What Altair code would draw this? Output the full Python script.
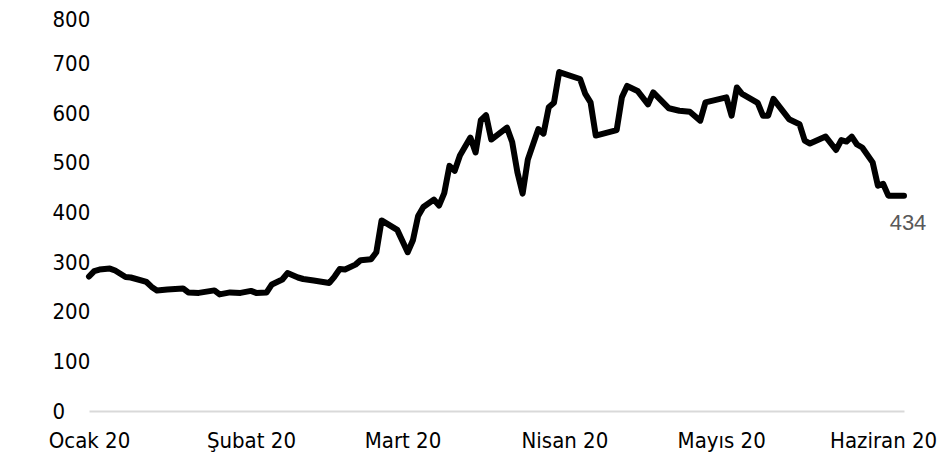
import altair as alt
import pandas as pd

dates = [
    "2020-01-01", "2020-01-02", "2020-01-03", "2020-01-05", "2020-01-06", "2020-01-08",
    "2020-01-09", "2020-01-12", "2020-01-13", "2020-01-14", "2020-01-16", "2020-01-19",
    "2020-01-20", "2020-01-22", "2020-01-25", "2020-01-26", "2020-01-27", "2020-01-28",
    "2020-01-30", "2020-02-01", "2020-02-02", "2020-02-04", "2020-02-05", "2020-02-07",
    "2020-02-08", "2020-02-10", "2020-02-11", "2020-02-13", "2020-02-16", "2020-02-17",
    "2020-02-18", "2020-02-19", "2020-02-21", "2020-02-22", "2020-02-24", "2020-02-25",
    "2020-02-26", "2020-02-29", "2020-03-02", "2020-03-03", "2020-03-04", "2020-03-05",
    "2020-03-07", "2020-03-08", "2020-03-09", "2020-03-10", "2020-03-11", "2020-03-12",
    "2020-03-14", "2020-03-15", "2020-03-16", "2020-03-17", "2020-03-18", "2020-03-21",
    "2020-03-22", "2020-03-23", "2020-03-24", "2020-03-25", "2020-03-27", "2020-03-28",
    "2020-03-29", "2020-03-30", "2020-03-31", "2020-04-04", "2020-04-05", "2020-04-06",
    "2020-04-07", "2020-04-11", "2020-04-12", "2020-04-13", "2020-04-15", "2020-04-17",
    "2020-04-18", "2020-04-21", "2020-04-23", "2020-04-25", "2020-04-27", "2020-04-28",
    "2020-05-02", "2020-05-03", "2020-05-04", "2020-05-05", "2020-05-08", "2020-05-09",
    "2020-05-10", "2020-05-11", "2020-05-14", "2020-05-16", "2020-05-17", "2020-05-18",
    "2020-05-21", "2020-05-23", "2020-05-24", "2020-05-25", "2020-05-26", "2020-05-27",
    "2020-05-28", "2020-05-30", "2020-05-31", "2020-06-01", "2020-06-02", "2020-06-05",
]
values = [
    271, 282, 285, 287, 283, 270,
    269, 260, 250, 243, 245, 247,
    239, 238, 243, 235, 237, 239,
    238, 242, 238, 239, 255, 265,
    278, 269, 266, 263, 258, 271,
    286, 285, 295, 304, 306, 320,
    384, 365, 320, 344, 393, 411,
    426, 414, 439, 494, 484, 515,
    551, 521, 586, 596, 547, 571,
    542, 481, 438, 507, 568, 559,
    612, 621, 683, 669, 639, 622,
    555, 566, 632, 655, 645, 618,
    642, 610, 605, 603, 585, 622,
    632, 595, 652, 639, 621, 595,
    595, 629, 588, 578, 545, 539,
    553, 526, 546, 543, 553, 537,
    531, 501, 454, 458, 434, 434,
]
month_labels = ["Ocak 20", "Şubat 20", "Mart 20", "Nisan 20", "Mayıs 20", "Haziran 20"]
month_starts = ["2020-01-01", "2020-02-01", "2020-03-01", "2020-04-01", "2020-05-01", "2020-06-01"]
y_ticks = [0, 100, 200, 300, 400, 500, 600, 700, 800]

df = pd.DataFrame({"date": dates, "value": values})
last = df.tail(1)

label_array = "[" + ",".join("'" + m + "'" for m in month_labels) + "]"
x_values = [alt.DateTime(year=int(d[:4]), month=int(d[5:7]), date=int(d[8:]), utc=True) for d in month_starts]

FONT = "DejaVu Sans Condensed, Liberation Sans, sans-serif"
LABEL_FONT = "Liberation Sans"

x_enc = alt.X(
    "date:T",
    scale=alt.Scale(type="utc", domain=[alt.DateTime(year=2020, month=1, date=1, utc=True),
                                        alt.DateTime(year=2020, month=6, date=5, utc=True)]),
    axis=alt.Axis(
        title=None,
        values=x_values,
        labelExpr=label_array + "[utcmonth(datum.value)]",
        ticks=False,
        grid=False,
        domainColor="#d9d9d9",
        domainWidth=2,
        labelFont=FONT,
        labelFontSize=22,
        labelColor="#000000",
        labelPadding=19,
        labelFlush=False,
        labelOverlap=False,
    ),
)
y_enc = alt.Y(
    "value:Q",
    scale=alt.Scale(domain=[0, 800], nice=False, zero=True),
    axis=alt.Axis(
        title=None,
        values=y_ticks,
        ticks=False,
        grid=False,
        domain=False,
        labelFont=FONT,
        labelFontSize=22,
        labelColor="#000000",
        labelAlign="left",
        labelPadding=37,
        labelOffset={"condition": {"test": "datum.value == 800", "value": 5}, "value": 0},
    ),
)

line = alt.Chart(df).mark_line(
    color="#000000", strokeWidth=6, strokeJoin="round", strokeCap="round"
).encode(x=x_enc, y=y_enc)

label = alt.Chart(last).mark_text(
    font=LABEL_FONT, fontSize=22, color="#595959", dx=4, dy=27, align="center", baseline="middle"
).encode(x="date:T", y="value:Q", text=alt.Text("value:Q", format="d"))

chart = (line + label).properties(
    width=815,
    height=397,
    padding={"left": 81, "top": 6, "right": 34, "bottom": 45},
    autosize=alt.AutoSizeParams(type="none"),
    background="#ffffff",
).configure_view(stroke="transparent", strokeWidth=0)

chart.save("out.html", embed_options={"renderer": "svg", "actions": False})
